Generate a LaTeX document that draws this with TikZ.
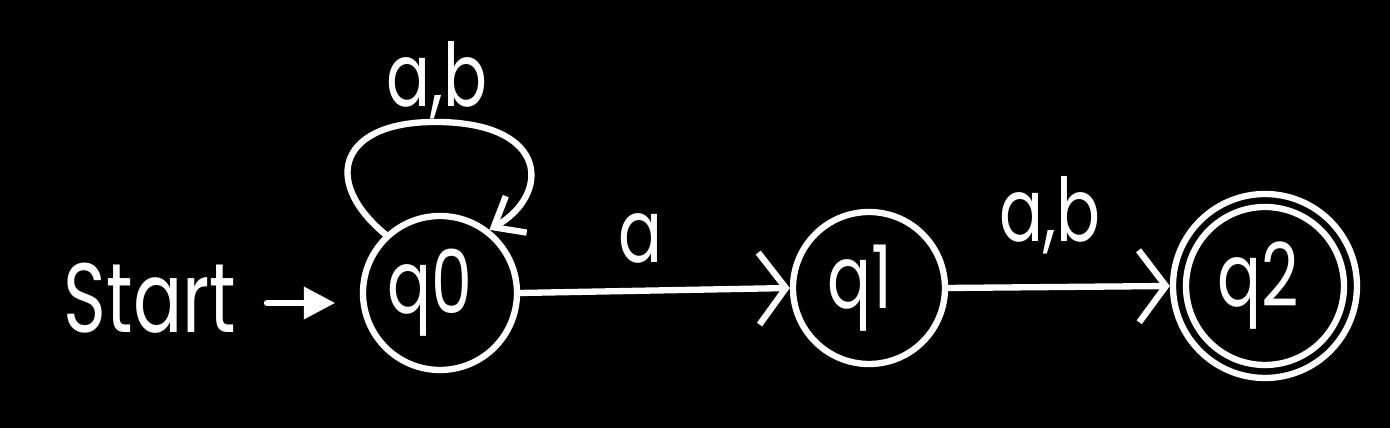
\documentclass[tikz,border=0pt]{standalone}
\usepackage{fontspec}
\usepackage{graphicx}
\setmainfont{Poppins}
\usetikzlibrary{arrows.meta}
\newcommand{\hw}[1]{\scalebox{0.74}[1]{#1}}
\begin{document}
\begin{tikzpicture}[
  line width=1.8pt, white, line cap=round, line join=round,
  state/.style={circle, draw=white, line width=1.8pt, inner sep=0pt},
  lbl/.style={text=white, font=\fontsize{25}{27}\selectfont, inner sep=0pt},
  edge/.style={draw=white, line width=1.8pt, -{Straight Barb[length=0.27cm,width=0.72cm,line width=1.8pt]}},
  loopedge/.style={draw=white, line width=1.8pt, -{Straight Barb[length=0.26cm,width=0.42cm,line width=1.8pt]}}
]
\fill[black] (0,0) rectangle (13.9,-4.28);
\useasboundingbox (0,0) rectangle (13.9,-4.28);

\node[state, minimum size=1.54cm] (q0) at (4.40,-2.93) {};
\node[lbl] (q0t) at (4.30,-2.93) {\hw{q0}};
\node[state, minimum size=1.52cm] (q1) at (8.69,-2.88) {};
\node[lbl] (q1t) at (8.60,-2.88) {\hw{q1}};
\node[state, minimum size=1.58cm] (q2) at (12.65,-2.86) {};
\node[state, minimum size=1.84cm] (q2o) at (12.65,-2.86) {};
\node[lbl] (q2t) at (12.58,-2.86) {\hw{q2}};

\node[lbl, font=\fontsize{28}{30}\selectfont] (start) at (1.50,-2.98) {\hw{Start}};

\coordinate (sa) at (2.67,-3.03);
\draw[draw=white, line width=1.8pt, shorten >=0.25cm,
  -{Triangle[length=0.31cm,width=0.33cm,line width=0pt]}] (sa) -- (q0.west |- sa);

\draw[loopedge] (q0.133) .. controls (3.2,-1.8) and (3.4,-1.2) .. (4.4,-1.22)
  .. controls (5.5,-1.24) and (5.5,-1.95) .. (q0.52);
\node[lbl] (l0) at (4.37,-0.80) {\hw{a,b}};

\draw[edge] (q0.east) -- (q1.west);
\node[lbl] (l1) at (6.40,-2.38) {\hw{a}};

\draw[edge] (q1.east) -- (q2o.west);
\node[lbl] (l2) at (10.50,-2.15) {\hw{a,b}};
\end{tikzpicture}
\end{document}
